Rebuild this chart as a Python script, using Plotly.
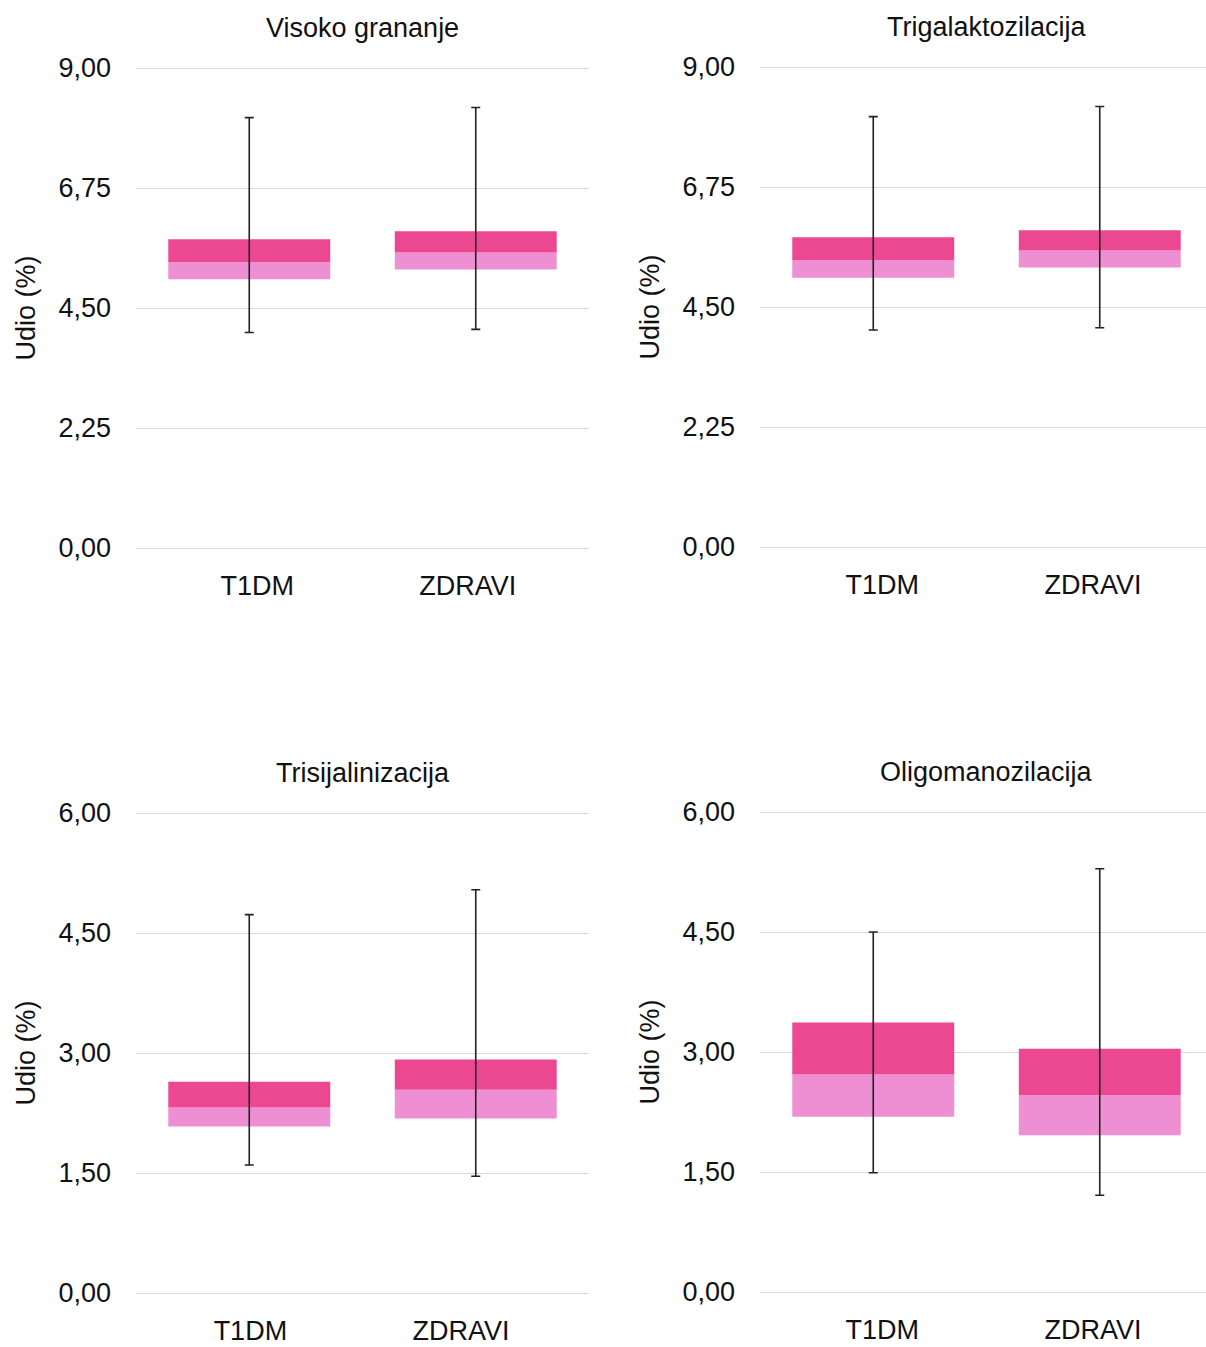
import plotly.graph_objects as go

# Groups compared in every panel
groups = ["T1DM", "ZDRAVI"]

# Panel titles (glycan traits)
titles = ["Visoko grananje", "Trigalaktozilacija", "Trisijalinizacija", "Oligomanozilacija"]

# Summary statistics per panel, ordered as in `groups`
vis_min = [4.04, 4.10]
vis_q1 = [5.04, 5.22]
vis_med = [5.36, 5.54]
vis_q3 = [5.79, 5.94]
vis_max = [8.07, 8.26]

trigal_min = [4.07, 4.11]
trigal_q1 = [5.05, 5.24]
trigal_med = [5.38, 5.56]
trigal_q3 = [5.81, 5.94]
trigal_max = [8.07, 8.26]

trisij_min = [1.60, 1.46]
trisij_q1 = [2.08, 2.18]
trisij_med = [2.32, 2.54]
trisij_q3 = [2.64, 2.92]
trisij_max = [4.73, 5.04]

oligo_min = [1.49, 1.21]
oligo_q1 = [2.19, 1.96]
oligo_med = [2.72, 2.46]
oligo_q3 = [3.37, 3.04]
oligo_max = [4.50, 5.29]

# Y-axis ticks for the top and bottom rows
ticks_top = [0.0, 2.25, 4.5, 6.75, 9.0]
ticks_bottom = [0.0, 1.5, 3.0, 4.5, 6.0]

panels = [
    (vis_min, vis_q1, vis_med, vis_q3, vis_max),
    (trigal_min, trigal_q1, trigal_med, trigal_q3, trigal_max),
    (trisij_min, trisij_q1, trisij_med, trisij_q3, trisij_max),
    (oligo_min, oligo_q1, oligo_med, oligo_q3, oligo_max),
]

W, H = 1206, 1347
FONT = "Liberation Sans, Arial, Helvetica, sans-serif"
LIGHT = "#EF8FD3"
DARK = "#EB4891"
GRID = "#D9D9D9"
TEXT = "#111111"

# Plot areas in pixels: (left, right, top, bottom), top/bottom = first/last gridline
areas = [
    (136, 589, 68, 548),
    (760, 1206, 67, 547),
    (136, 589, 813, 1293),
    (760, 1206, 812, 1292),
]
# Category label positions along each x axis
label_pos = [
    [0.035, 0.965],
    [0.04, 0.97],
    [0.005, 0.935],
    [0.04, 0.97],
]
CAT_PX = 226.5  # pixels per category
PAD = 2         # extra pixels above/below so the edge gridlines get drawn

fig = go.Figure()
xpos = [0, 1]

for i, (lo, q1, med, q3, hi) in enumerate(panels):
    ax = "" if i == 0 else str(i + 1)
    xref, yref = "x" + ax, "y" + ax
    # lower half of the box: Q1 -> median
    fig.add_trace(go.Bar(
        x=xpos, y=[m - a for m, a in zip(med, q1)], base=q1,
        width=0.715, marker=dict(color=LIGHT, line=dict(width=0)),
        xaxis=xref, yaxis=yref, showlegend=False, hoverinfo="skip"))
    # upper half of the box: median -> Q3
    fig.add_trace(go.Bar(
        x=xpos, y=[b - m for b, m in zip(q3, med)], base=med,
        width=0.715, marker=dict(color=DARK, line=dict(width=0)),
        xaxis=xref, yaxis=yref, showlegend=False, hoverinfo="skip"))
    # whiskers: min -> max
    fig.add_trace(go.Scatter(
        x=xpos, y=med, mode="markers", marker=dict(size=0.1, color="rgba(0,0,0,0)"),
        error_y=dict(type="data", symmetric=False,
                     array=[h - m for h, m in zip(hi, med)],
                     arrayminus=[m - l for m, l in zip(med, lo)],
                     color="#222222", thickness=1.6, width=4.5),
        xaxis=xref, yaxis=yref, showlegend=False, hoverinfo="skip"))

layout = dict(
    width=W, height=H,
    margin=dict(l=0, r=0, t=0, b=0, autoexpand=False),
    paper_bgcolor="white", plot_bgcolor="white",
    barmode="overlay",
    separators=",.",
    font=dict(family=FONT, size=27, color=TEXT),
)

annotations = []
for i, (left, right, top, bottom) in enumerate(areas):
    ax = "" if i == 0 else str(i + 1)
    ticks = ticks_top if i < 2 else ticks_bottom
    xr_end = -0.5 + (right - left) / CAT_PX
    units_per_px = (ticks[-1] - ticks[0]) / (bottom - top)
    ext = PAD * units_per_px
    layout["xaxis" + ax] = dict(
        domain=[left / W, right / W], range=[-0.5, xr_end],
        anchor="y" + ax, showgrid=False, zeroline=False, showline=False,
        automargin=False,
        tickmode="array", tickvals=label_pos[i], ticktext=groups,
        ticks="", ticklabelstandoff=17, tickfont=dict(size=27, color=TEXT),
        fixedrange=True)
    layout["yaxis" + ax] = dict(
        domain=[1 - (bottom + PAD) / H, 1 - (top - PAD) / H],
        range=[ticks[0] - ext, ticks[-1] + ext],
        anchor="x" + ax, showgrid=True, gridcolor=GRID, gridwidth=1,
        zeroline=False, showline=False, automargin=False,
        tickmode="array", tickvals=ticks, tickformat=".2f",
        ticks="", ticklabelstandoff=24, tickfont=dict(size=27, color=TEXT),
        title=dict(text="Udio (%)", font=dict(size=27, color=TEXT), standoff=14),
        fixedrange=True)
    annotations.append(dict(
        text=titles[i], xref="paper", yref="paper",
        x=(left + (left + 2 * CAT_PX if i % 2 else right)) / 2 / W,
        y=1 - (top - 40) / H, xanchor="center", yanchor="middle",
        showarrow=False, font=dict(size=27, color=TEXT)))

layout["annotations"] = annotations
fig.update_layout(**layout)
fig.write_html("out.html")
